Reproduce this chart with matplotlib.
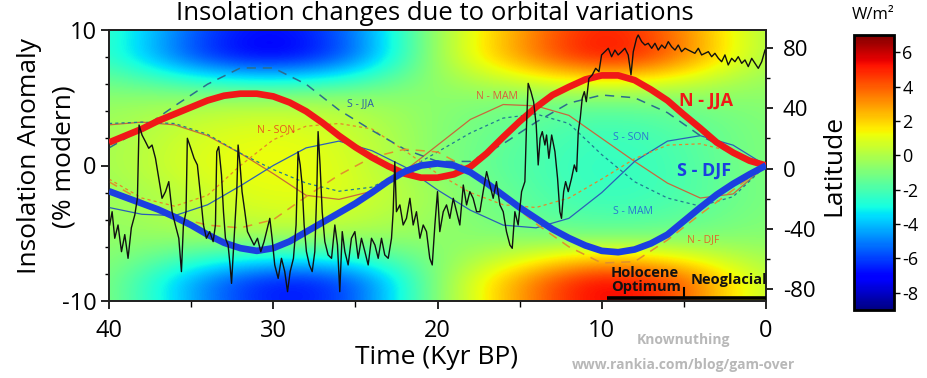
import numpy as np
import matplotlib
matplotlib.use("Agg")
import matplotlib.pyplot as plt
from matplotlib.ticker import MultipleLocator

plt.rcParams['font.family'] = ['Open Sans', 'DejaVu Sans']
plt.rcParams['axes.unicode_minus'] = False

# ---------------- data ----------------
# thick curves (1 kyr steps)
time_fine = [40, 39, 38, 37, 36, 35, 34, 33, 32, 31, 30, 29, 28, 27, 26, 25, 24, 23, 22, 21, 20,
             19, 18, 17, 16, 15, 14, 13, 12, 11, 10, 9, 8, 7, 6, 5, 4, 3, 2, 1, 0]
n_jja = [1.7, 2.2, 2.7, 3.3, 3.8, 4.3, 4.8, 5.15, 5.3, 5.3, 5.1, 4.65, 4.0, 3.15, 2.2, 1.35, 0.6,
         -0.05, -0.6, -0.9, -0.9, -0.65, -0.1, 0.9, 2.1, 3.25, 4.3, 5.2, 5.8, 6.35, 6.65, 6.65, 6.3,
         5.6, 4.8, 3.75, 2.75, 1.7, 0.95, 0.35, 0.0]
s_djf = [-1.9, -2.35, -2.8, -3.25, -3.8, -4.4, -5.1, -5.7, -6.1, -6.3, -6.1, -5.6, -4.9, -4.2, -3.5,
         -2.8, -2.0, -1.15, -0.45, 0.0, 0.15, 0.0, -0.5, -1.3, -2.2, -3.1, -3.9, -4.7, -5.35, -5.9,
         -6.3, -6.4, -6.2, -5.75, -5.1, -4.1, -3.1, -2.15, -1.35, -0.65, 0.0]

# thin curves (2 kyr steps)
time_kyr = [40, 38, 36, 34, 32, 30, 28, 26, 24, 22, 20, 18, 16, 14, 12, 10, 8, 6, 4, 2, 0]
n_mam = [3.0, 3.2, 3.0, 2.2, 0.9, -0.6, -2.2, -2.5, -1.9, -0.4, 1.5, 3.4, 4.5, 4.4, 3.7, 2.0, 0.3, -1.3, -2.4, -2.1, 0.0]
s_son = [-3.1, -3.6, -3.7, -2.9, -1.5, 0.0, 1.3, 1.8, 1.1, -0.1, -1.8, -3.3, -4.4, -4.6, -3.9, -2.0, 0.3, 1.8, 2.2, 1.5, 0.0]
s_mam = [3.1, 3.2, 3.1, 2.3, 0.9, -0.3, -1.3, -1.9, -1.6, -0.4, 1.0, 2.4, 3.5, 3.8, 3.1, 0.8, -1.2, -2.4, -3.0, -2.3, 0.0]
s_jja = [1.3, 2.7, 4.4, 6.0, 7.2, 7.2, 6.0, 4.1, 2.6, 1.2, 0.3, 0.3, 1.6, 3.2, 4.6, 5.2, 5.0, 3.9, 2.2, 1.0, 0.0]
n_djf = [-1.2, -2.6, -3.8, -4.4, -4.6, -4.0, -2.3, -0.7, 0.6, 1.2, 1.0, -0.3, -2.3, -4.3, -6.0, -7.2, -7.1, -5.5, -3.6, -1.8, 0.0]
n_son = [-1.0, -2.4, -3.0, -2.2, 0.0, 1.9, 2.9, 3.1, 2.7, 1.1, -0.6, -2.0, -2.9, -3.1, -2.4, -1.0, 0.5, 1.5, 1.6, 1.0, 0.0]

# annual-mean insolation anomaly field (W/m2), rows = latitude, cols = time
grid_time = [40, 35, 30, 25, 20, 15, 10, 5, 0]
grid_lat = [90, 75, 60, 45, 30, 15, 0, -15, -30, -45, -60, -75, -90]
insolation_wm2 = [
    [-2.0, -5.7, -7.3, -5.4, -0.1, 2.8, 5.6, 3.4, -0.4],
    [-2.1, -6.1, -7.8, -5.8, 0.0, 3.0, 6.1, 3.7, -0.4],
    [-1.3, -2.9, -3.6, -2.8, -0.4, 0.8, 2.1, 1.1, -0.6],
    [-0.6, -0.3, -0.2, -0.3, -0.75, -1.0, -1.2, -1.0, -0.7],
    [-0.4, 0.5, 0.9, 0.4, -0.85, -1.5, -2.2, -1.7, -0.8],
    [-0.3, 0.8, 1.3, 0.7, -0.9, -1.7, -2.5, -1.9, -0.8],
    [-0.3, 0.9, 1.4, 0.8, -0.9, -1.8, -2.6, -2.0, -0.8],
    [-0.5, 0.4, 1.2, 0.9, -0.4, -1.65, -2.5, -2.0, -0.9],
    [-0.5, 0.2, 0.8, 0.6, -0.5, -1.45, -2.1, -1.75, -0.85],
    [-0.6, -0.4, -0.2, -0.3, -0.6, -0.95, -1.2, -1.05, -0.75],
    [-0.6, -2.3, -3.3, -2.9, -0.8, 0.8, 2.5, 1.4, -0.4],
    [-0.6, -4.6, -7.2, -6.2, -0.6, 3.0, 6.3, 4.3, -0.05],
    [-0.6, -4.3, -6.9, -5.9, -0.6, 2.8, 6.1, 4.0, -0.1],
]

# ice-core temperature proxy, plotted against the anomaly axis
ice_time = [39.96, 39.81, 39.65, 39.45, 39.24, 39.04, 38.84, 38.64, 38.43, 38.27, 38.17, 37.99, 37.78, 37.58,
            37.38, 37.17, 36.97, 36.77, 36.56, 36.36, 36.16, 35.96, 35.75, 35.59, 35.47, 35.31, 35.23, 35.02,
            34.82, 34.62, 34.41, 34.25, 34.07, 33.87, 33.66, 33.52, 33.44, 33.32, 33.15, 33.03, 32.91, 32.75,
            32.63, 32.54, 32.38, 32.22, 32.14, 32.02, 31.90, 31.73, 31.57, 31.37, 31.17, 30.96, 30.76, 30.56,
            30.35, 30.21, 30.07, 29.91, 29.70, 29.50, 29.30, 29.13, 28.97, 28.77, 28.61, 28.49, 28.36, 28.24,
            28.12, 27.98, 27.80, 27.63, 27.47, 27.35, 27.27, 27.15, 27.02,
            26.86, 26.66, 26.45, 26.25, 26.09, 25.95, 25.80, 25.64, 25.44, 25.24, 25.03, 24.83, 24.63, 24.42,
            24.22, 24.02, 23.81, 23.61, 23.41, 23.21, 23.00, 22.80, 22.70, 22.60, 22.50, 22.29, 22.09, 21.89,
            21.68, 21.48, 21.28, 21.07, 20.87, 20.67, 20.47, 20.32, 20.16, 20.00, 19.86, 19.65, 19.45, 19.25,
            19.04, 18.84, 18.64, 18.43, 18.23, 18.03, 17.83, 17.62, 17.42, 17.22, 17.01, 16.81, 16.61, 16.41,
            16.20, 16.00, 15.80, 15.59, 15.45, 15.29, 15.09, 14.88, 14.68, 14.58, 14.48, 14.31, 14.15, 13.99,
            13.87, 13.75, 13.62, 13.46,
            13.36, 13.22, 13.05, 12.85, 12.69, 12.55, 12.45, 12.32, 12.20, 12.04, 11.84, 11.67, 11.53, 11.43,
            11.31, 11.19, 11.06, 10.94, 10.78, 10.58, 10.37, 10.17, 10.01, 9.81, 9.60, 9.40, 9.20, 9.00, 8.79,
            8.59, 8.39, 8.22, 8.08, 7.88, 7.78, 7.57, 7.37, 7.17, 6.96, 6.76, 6.56, 6.35, 6.15, 5.95, 5.75,
            5.54, 5.34, 5.14, 4.93, 4.73, 4.53, 4.33, 4.12, 3.92, 3.72, 3.51, 3.31, 3.11, 2.90, 2.70, 2.50,
            2.30, 2.09, 1.89, 1.69, 1.48, 1.28, 1.08, 0.87, 0.67, 0.47, 0.26, 0.06]
ice_value = [-4.39, -3.41, -5.37, -4.39, -6.36, -5.10, -6.85, -4.60, -3.65, -2.42, 2.99, 2.25, 1.76, 1.27,
             1.51, 0.53, -0.95, -2.42, -1.93, -1.19, -3.41, -4.39, -5.37, -7.83, -4.39, -3.41, 2.01, 1.27,
             0.53, 0.04, -2.42, -4.39, -5.37, -4.88, -5.62, -4.39, 1.02, 1.39, -0.70, -3.41, -5.37, -5.87,
             -7.34, -8.70, -5.37, -1.93, 1.51, 0.04, -1.93, -3.41, -4.88, -5.37, -5.87, -5.37, -6.36, -5.62,
             -4.60, -3.90, -5.37, -7.34, -8.33, -6.85, -7.83, -9.31, -7.83, -6.85, -4.39, 1.02, 0.04, -1.44,
             -4.39, -6.36, -7.34, -7.83, -6.36, -1.93, 2.50, 0.04, -3.41,
             -5.62, -6.60, -6.85, -4.39, -5.87, -9.31, -4.88, -6.36, -7.34, -5.37, -4.88, -6.85, -5.37, -6.36,
             -7.34, -5.37, -5.87, -6.85, -5.37, -6.60, -6.85, -5.37, -3.41, 0.28, -3.41, -2.91, -4.39, -3.90,
             -2.42, -4.39, -3.41, -5.37, -4.39, -4.88, -6.85, -7.34, -4.39, -1.93, -4.88, -3.41, -2.91, -3.90,
             -2.42, -3.41, -4.39, -1.44, -2.91, -1.93, -2.42, -3.41, -3.41, -1.93, -0.45, -1.44, -2.42, -1.19,
             -2.91, -3.41, -4.88, -5.87, -6.11, -3.41, -4.39, -1.93, -1.19, 2.99, 6.06, 5.45, 4.71, 2.99,
             0.04, 2.01, 2.50, 1.51,
             2.25, 0.53, 2.25, 1.02, -0.95, -3.41, -3.90, -1.93, -1.19, -1.93, -0.95, 0.04, -0.45, 2.50,
             3.48, 4.96, 5.45, 4.71, 6.43, 6.68, 7.17, 6.93, 8.16, 8.40, 8.65, 8.03, 8.52, 8.16, 8.40,
             8.65, 8.16, 6.70, 8.40, 9.39, 9.63, 9.14, 8.89, 9.02, 8.65, 9.02, 8.52, 8.89, 8.65, 9.14, 8.77,
             8.52, 8.89, 8.40, 8.65, 8.52, 8.40, 8.28, 8.65, 8.16, 8.28, 8.40, 8.03, 8.28, 7.91, 7.66, 8.16,
             7.42, 7.91, 7.66, 8.03, 7.54, 7.79, 7.30, 7.91, 7.54, 7.17, 7.66, 8.52]

lat_ticks = [-80, -40, 0, 40, 80]
anom_ticks = [-10, 0, 10]
time_ticks = [40, 30, 20, 10, 0]
cbar_ticks = [-8, -6, -4, -2, 0, 2, 4, 6]

# ---------------- figure ----------------
fig = plt.figure(figsize=(9.28, 3.78), dpi=100)
rect = [109 / 928, 1 - 301 / 378, 657 / 928, 271 / 378]
ax_img = fig.add_axes(rect)

field = np.array(insolation_wm2)
half_t = (grid_time[0] - grid_time[1]) / 2
half_l = (grid_lat[0] - grid_lat[1]) / 2
im = ax_img.imshow(field, cmap='jet', vmin=-9, vmax=7, aspect='auto', origin='upper',
                   extent=[grid_time[0] + half_t, grid_time[-1] - half_t,
                           grid_lat[-1] - half_l, grid_lat[0] + half_l],
                   interpolation='bicubic', interpolation_stage='data')
ax_img.set_xlim(40, 0)
ax_img.set_ylim(-88, 92)

ax = ax_img.twinx()
ax.yaxis.tick_left()
ax.yaxis.set_label_position('left')
ax_img.yaxis.tick_right()
ax_img.yaxis.set_label_position('right')

ax.set_ylim(-10, 10)
ax.set_xlim(40, 0)

# seasonal curves
thin = 0.9
ax.plot(time_kyr, n_mam, color='#c8683c', lw=thin, zorder=2)
ax.plot(time_kyr, s_son, color='#2b5fb8', lw=thin, zorder=2)
ax.plot(time_kyr, s_mam, color='#217a93', lw=thin, ls=(0, (2.5, 2.5)), zorder=2)
ax.plot(time_kyr, n_son, color='#e6862a', lw=thin, ls=(0, (2.5, 2.5)), zorder=2)
ax.plot(time_kyr, s_jja, color='#2d6c8c', lw=1.1, ls=(0, (6, 4.5)), zorder=2)
ax.plot(time_kyr, n_djf, color='#e0902e', lw=1.1, ls=(0, (6, 4.5)), zorder=2)
ax.plot(time_fine, n_jja, color='#f01818', lw=4.8, zorder=3, solid_capstyle='butt', solid_joinstyle='round')
ax.plot(time_fine, s_djf, color='#1b3fe0', lw=4.8, zorder=3, solid_capstyle='butt', solid_joinstyle='round')
ax.plot(ice_time, ice_value, color='#111111', lw=1.0, zorder=4)

# series labels
ax.text(3.65, 4.8, 'N - JJA', color='#f01818', fontsize=13, fontweight='bold', ha='center', va='center')
ax.text(3.8, -0.35, 'S - DJF', color='#1b3fe0', fontsize=13, fontweight='bold', ha='center', va='center')
small = 7.5
ax.text(24.7, 4.6, 'S - JJA', color='#2a5aa8', fontsize=small, ha='center', va='center')
ax.text(29.8, 2.55, 'N - SON', color='#e8541c', fontsize=small, ha='center', va='center')
ax.text(16.4, 5.1, 'N - MAM', color='#d8603c', fontsize=small, ha='center', va='center')
ax.text(8.2, 2.1, 'S - SON', color='#2a74d0', fontsize=small, ha='center', va='center')
ax.text(8.1, -3.4, 'S - MAM', color='#2a74d0', fontsize=small, ha='center', va='center')
ax.text(3.8, -5.5, 'N - DJF', color='#e0662a', fontsize=small, ha='center', va='center')

# Holocene annotation
ax.plot([9.7, 0.0], [-9.75, -9.75], color='black', lw=2.6, zorder=5, solid_capstyle='butt')
ax.plot([5.0, 5.0], [-9.75, -9.05], color='black', lw=1.5, zorder=5)
ax.text(9.45, -7.9, 'Holocene', fontsize=10.5, fontweight='bold', ha='left', va='center', color='#111111', zorder=6)
ax.text(9.45, -9.0, 'Optimum', fontsize=10.5, fontweight='bold', ha='left', va='center', color='#111111', zorder=6)
ax.text(4.6, -8.45, 'Neoglacial', fontsize=10.5, fontweight='bold', ha='left', va='center', color='#111111', zorder=6)

# axes styling
ax.set_yticks(anom_ticks)
ax.yaxis.set_minor_locator(MultipleLocator(2))
ax.set_xticks(time_ticks)
ax.xaxis.set_minor_locator(MultipleLocator(5))
ax.tick_params(axis='y', which='major', direction='out', length=6, width=1.2, labelsize=17, pad=3)
ax.tick_params(axis='y', which='minor', direction='out', length=3, width=1.0)
ax_img.set_xticks(time_ticks)
ax_img.xaxis.set_minor_locator(MultipleLocator(5))
ax_img.tick_params(axis='x', which='major', direction='out', length=6, width=1.2, labelsize=17, pad=7)
ax_img.tick_params(axis='x', which='minor', direction='out', length=4, width=1.0)
ax_img.set_yticks(lat_ticks)
ax_img.yaxis.set_minor_locator(MultipleLocator(20))
ax_img.tick_params(axis='y', which='major', direction='out', length=5, width=1.2, labelsize=16, pad=7)
ax_img.tick_params(axis='y', which='minor', direction='out', length=3, width=1.0)
for a in (ax, ax_img):
    for s in a.spines.values():
        s.set_linewidth(1.3)
        s.set_color('#222222')

# colorbar
cax = fig.add_axes([854 / 928, 1 - 310 / 378, 40 / 928, 275 / 378])
cb = fig.colorbar(im, cax=cax, ticks=cbar_ticks)
cb.outline.set_linewidth(2)
cax.tick_params(labelsize=13, length=4, width=1, direction='out', pad=2)

# texts
fig.text(435 / 928, 1 - 1 / 378, 'Insolation changes due to orbital variations', fontsize=18.5,
         ha='center', va='top')
fig.text(30 / 928, 1 - 156 / 378, 'Insolation Anomaly', fontsize=19, rotation=90, ha='center', va='center')
fig.text(64 / 928, 1 - 157 / 378, '(% modern)', fontsize=19, rotation=90, ha='center', va='center')
fig.text(834 / 928, 1 - 165 / 378, 'Latitude', fontsize=19, rotation=90, ha='center', va='center')
fig.text(437 / 928, 1 - 357 / 378, 'Time (Kyr BP)', fontsize=19, ha='center', va='center')
fig.text(873 / 928, 1 - 15 / 378, 'W/m²', fontsize=12, ha='center', va='center')
fig.text(683 / 928, 1 - 340 / 378, 'Knownuthing', fontsize=10, color='#b8b8b8', fontweight='bold',
         ha='center', va='center')
fig.text(683 / 928, 1 - 365 / 378, 'www.rankia.com/blog/gam-over', fontsize=10, color='#b8b8b8',
         fontweight='bold', ha='center', va='center')

fig.savefig('out.png', dpi=100)
